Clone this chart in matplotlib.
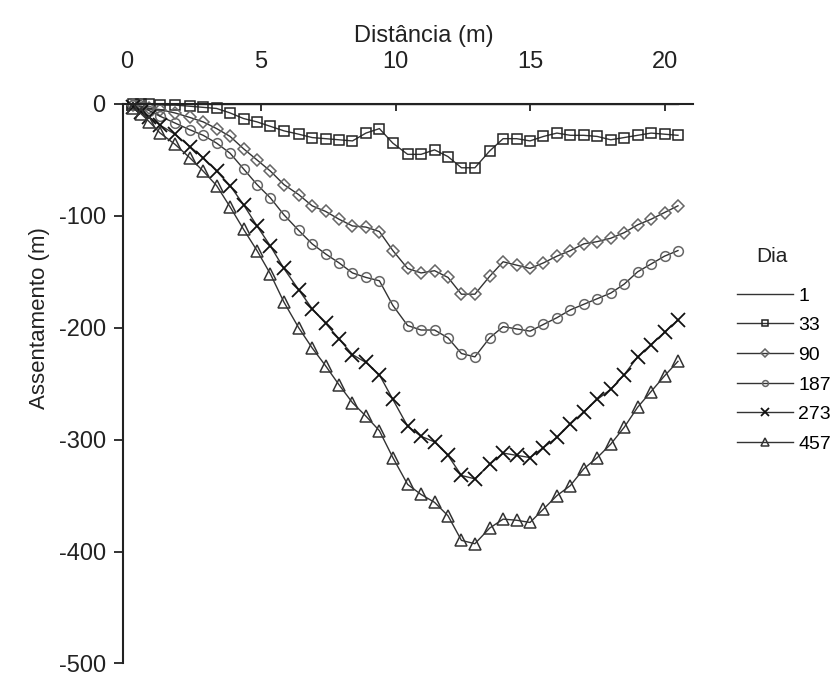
"""Settlement profiles along the section for several survey days."""
import matplotlib
matplotlib.use("Agg")
import matplotlib.pyplot as plt

plt.rcParams["font.family"] = ["Liberation Sans", "DejaVu Sans"]
plt.rcParams["axes.unicode_minus"] = False

# Distance along the section (m)
distancia = [0.25, 0.55, 0.85, 1.25, 1.8, 2.35, 2.85, 3.35, 3.85, 4.35,
             4.85, 5.35, 5.85, 6.4, 6.9, 7.4, 7.9, 8.4, 8.9, 9.4,
             9.9, 10.45, 10.95, 11.45, 11.95, 12.45, 12.95, 13.5, 14.0, 14.5,
             15.0, 15.5, 16.0, 16.5, 17.0, 17.5, 18.0, 18.5, 19.0, 19.5,
             20.0, 20.5]

dia_1 = [0, 0, 0, 0, 0, 0, 0, 0, 0, 0,
         0, 0, 0, 0, 0, 0, 0, 0, 0, 0,
         0, 0, 0, 0, 0, 0, 0, 0, 0, 0,
         0, 0, 0, 0, 0, 0, 0, 0, 0, 0,
         0, 0]
dia_33 = [0, 0, 0, -1, -1, -2, -3, -4, -8, -13,
          -16, -20, -24, -27, -30, -31, -32, -33, -26, -22,
          -35, -45, -45, -41, -47, -57, -57, -42, -31, -31,
          -33, -29, -26, -28, -28, -29, -32, -30, -28, -26,
          -27, -28]
dia_90 = [-1, -2, -4, -5, -8, -12, -16, -22, -29, -40,
          -50, -60, -72, -81, -91, -96, -103, -109, -110, -114,
          -131, -147, -151, -149, -155, -170, -170, -154, -141, -144,
          -147, -142, -136, -131, -125, -123, -120, -115, -108, -103,
          -97, -91]
dia_187 = [-1, -3, -6, -11, -17, -23, -28, -35, -44, -58,
           -72, -84, -99, -113, -125, -134, -142, -151, -155, -158,
           -180, -198, -202, -202, -209, -223, -226, -209, -199, -201,
           -203, -197, -191, -184, -179, -174, -169, -161, -150, -143,
           -136, -131]
dia_273 = [-3, -7, -12, -19, -27, -38, -48, -60, -73, -90,
           -109, -127, -147, -166, -183, -196, -210, -224, -231, -242,
           -264, -288, -297, -302, -314, -332, -335, -322, -312, -314,
           -316, -307, -298, -286, -275, -264, -255, -242, -226, -215,
           -204, -193]
dia_457 = [-4, -9, -16, -26, -36, -48, -60, -73, -92, -112,
           -131, -152, -177, -200, -218, -234, -251, -267, -279, -292,
           -316, -340, -349, -356, -368, -390, -393, -379, -371, -372,
           -374, -362, -350, -341, -326, -316, -304, -289, -271, -257,
           -243, -230]

x_ticks = [0, 5, 10, 15, 20]
y_ticks = [0, -100, -200, -300, -400, -500]

series = [
    ("1", dia_1, dict(marker="None")),
    ("33", dia_33, dict(marker="s", markersize=7, markeredgecolor="#222222")),
    ("90", dia_90, dict(marker="D", markersize=6.3, markeredgecolor="#666666")),
    ("187", dia_187, dict(marker="o", markersize=7, markeredgecolor="#666666")),
    ("273", dia_273, dict(marker="x", markersize=10, markeredgecolor="#111111",
                          markeredgewidth=1.3)),
    ("457", dia_457, dict(marker="^", markersize=8.5, markeredgecolor="#333333")),
]

fig = plt.figure(figsize=(8.37, 6.77), dpi=100)
ax = fig.add_axes([0.147, 0.02, 0.681, 0.8264])

for label, values, style in series:
    ax.plot(distancia, values, color="#333333", linewidth=1.0,
            markerfacecolor="none", markeredgewidth=style.pop("markeredgewidth", 1.1),
            label=label, clip_on=False, **style)

ax.set_xlim(-0.13, 21.06)
ax.set_ylim(-500, 0)
ax.set_xticks(x_ticks)
ax.set_yticks(y_ticks)

ax.xaxis.tick_top()
ax.spines["bottom"].set_visible(False)
ax.spines["right"].set_visible(False)
for side in ("top", "left"):
    ax.spines[side].set_linewidth(1.5)
    ax.spines[side].set_color("#222222")
ax.tick_params(axis="x", direction="in", length=5, width=1.3, pad=22,
               labelsize=17, colors="#222222")
ax.tick_params(axis="y", direction="out", length=6.5, width=1.3, pad=6,
               labelsize=17, colors="#222222")

fig.text(424 / 837, 1 - 42 / 677, "Distância (m)", ha="center",
         va="baseline", fontsize=17, color="#222222")
fig.text(40 / 837, 1 - 318 / 677, "Assentamento (m)", ha="center",
         va="center", rotation=90, fontsize=16, color="#222222")

# legend title placed on its own, entries below it
fig.text(772 / 837, 1 - 257 / 677, "Dia", ha="center", va="center",
         fontsize=15, color="#222222")
fig.legend(loc="upper left", bbox_to_anchor=(737 / 837, 1 - 287 / 677),
           bbox_transform=fig.transFigure, frameon=False,
           fontsize=14, handlelength=2.9, handletextpad=0.25,
           labelspacing=0.62, borderpad=0, borderaxespad=0,
           markerscale=0.6)

fig.savefig("out.png", dpi=100)
